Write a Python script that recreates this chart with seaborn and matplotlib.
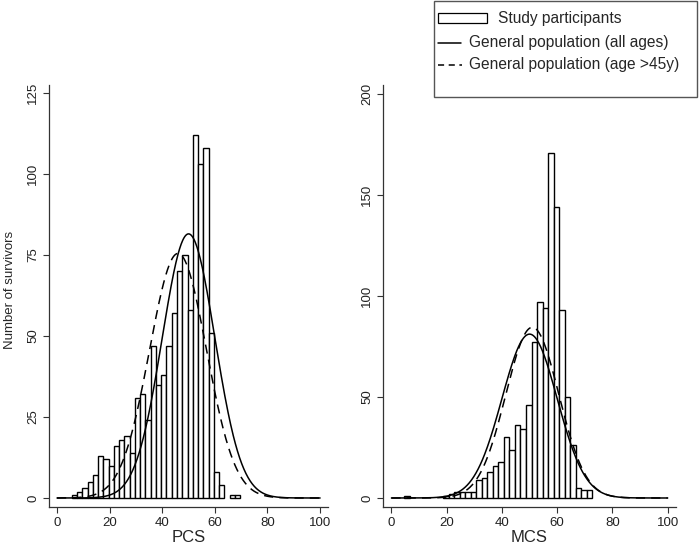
import numpy as np
import pandas as pd
import matplotlib
matplotlib.use("Agg")
import matplotlib.pyplot as plt
from matplotlib.patches import Rectangle
from matplotlib.lines import Line2D
import seaborn as sns

# -------------------------------
# Data
# -------------------------------

bin_width = 2

# PCS: counts per 2-point bin, first bin starts at 5.6
pcs_start = 5.6
pcs_counts = [1, 2, 3, 5, 7, 13, 12, 10, 16, 18, 19, 14, 31, 32, 24, 47,
              35, 38, 47, 57, 70, 75, 58, 112, 103, 108, 51, 8, 4, 0, 1, 1]

# MCS: counts per 2-point bin, first bin starts at 4.7
mcs_start = 4.7
mcs_counts = [1, 0, 0, 0, 0, 0, 0,
              1, 2, 3, 3, 3, 3, 9, 10, 13, 16, 18, 30, 24, 36, 34, 46, 77,
              97, 94, 171, 144, 93, 50, 26, 5, 4, 4]

# general population norm curves (mean, sd)
pcs_all_ages = (50, 10)
pcs_over_45 = (46, 10.8)
mcs_all_ages = (50, 10)
mcs_over_45 = (51, 9.6)

x_ticks = [0, 20, 40, 60, 80, 100]
pcs_yticks = [0, 25, 50, 75, 100, 125]
mcs_yticks = [0, 50, 100, 150, 200]

# -------------------------------
# Plot
# -------------------------------

sns.set_style("ticks")
plt.rcParams['font.family'] = ['Liberation Sans', 'DejaVu Sans']

W, H = 700, 549
fig = plt.figure(figsize=(W / 100, H / 100), dpi=100)


def px(x, y):
    return x / W, 1 - y / H


def normal_curve(mean, sd, n):
    xs = np.linspace(0, 100, 501)
    ys = n * bin_width * np.exp(-0.5 * ((xs - mean) / sd) ** 2) / (sd * np.sqrt(2 * np.pi))
    return xs, ys


def panel(ax, start, counts, all_ages, over_45, xlabel, yticks, ylim):
    counts = np.array(counts, dtype=float)
    centers = start + bin_width * (np.arange(len(counts)) + 0.5)
    df = pd.DataFrame({"score": centers, "count": counts})
    sns.histplot(data=df, x="score", weights="count", binwidth=bin_width,
                 binrange=(start, start + bin_width * len(counts)), ax=ax,
                 color="white", edgecolor="black", linewidth=1.0, alpha=1)
    for p in ax.patches:
        if p.get_height() == 0:
            p.set_visible(False)

    n = counts.sum()
    xs, ys = normal_curve(*all_ages, n)
    sns.lineplot(x=xs, y=ys, ax=ax, color="black", linewidth=1.1)
    xs, ys = normal_curve(*over_45, n)
    sns.lineplot(x=xs, y=ys, ax=ax, color="black", linewidth=1.1,
                 linestyle=(0, (6, 4)))

    ax.set_xlim(-3.05, 103)
    ax.set_ylim(*ylim)
    ax.set_xticks(x_ticks)
    ax.set_yticks(yticks)
    ax.set_yticklabels([str(t) for t in yticks], rotation=90, va="center")
    ax.tick_params(direction="out", length=4, width=0.8, colors="#333333",
                   labelsize=9.5, labelcolor="#222222", pad=3)
    ax.set_xlabel(xlabel, fontsize=12, labelpad=1)
    ax.set_ylabel("")
    for side in ["top", "right"]:
        ax.spines[side].set_visible(False)
    for side in ["left", "bottom"]:
        ax.spines[side].set_color("#333333")
        ax.spines[side].set_linewidth(0.9)
    ax.patch.set_alpha(0)


ax1 = fig.add_axes([49 / W, 1 - 507 / H, (328 - 49) / W, (507 - 85) / H])
panel(ax1, pcs_start, pcs_counts, pcs_all_ages, pcs_over_45, "PCS",
      pcs_yticks, (-2.78, 127.5))

ax2 = fig.add_axes([383 / W, 1 - 507 / H, (676 - 383) / W, (507 - 85) / H])
panel(ax2, mcs_start, mcs_counts, mcs_all_ages, mcs_over_45, "MCS",
      mcs_yticks, (-4.46, 204.5))

fig.text(*px(10, 290), "Number of survivors", rotation=90,
         ha="center", va="center", fontsize=9.5)

# legend box drawn by hand, as in the original
tf = fig.transFigure
bx, by = px(434, 97)
bx2, by2 = px(697, 1)
fig.add_artist(Rectangle((bx, by), bx2 - bx, by2 - by, transform=tf,
                         facecolor="white", edgecolor="#555555", lw=1.0))
rx, ry = px(438, 23)
rx2, ry2 = px(487, 13)
fig.add_artist(Rectangle((rx, ry), rx2 - rx, ry2 - ry, transform=tf,
                         facecolor="white", edgecolor="black", lw=0.9))
fig.text(*px(498, 18), "Study participants", ha="left", va="center",
         fontsize=11.2)
l1x, l1y = px(438, 43)
l2x, _ = px(461, 43)
fig.add_artist(Line2D([l1x, l2x], [l1y, l1y], transform=tf, color="black",
                      lw=1.1))
fig.text(*px(469, 43), "General population (all ages)", ha="left",
         va="center", fontsize=11.2)
d1x, d1y = px(438, 65)
d2x, _ = px(462, 65)
fig.add_artist(Line2D([d1x, d2x], [d1y, d1y], transform=tf, color="black",
                      lw=1.1, linestyle=(0, (4, 3))))
fig.text(*px(469, 65), "General population (age >45y)", ha="left",
         va="center", fontsize=11.2)

fig.savefig("out.png", dpi=100)
